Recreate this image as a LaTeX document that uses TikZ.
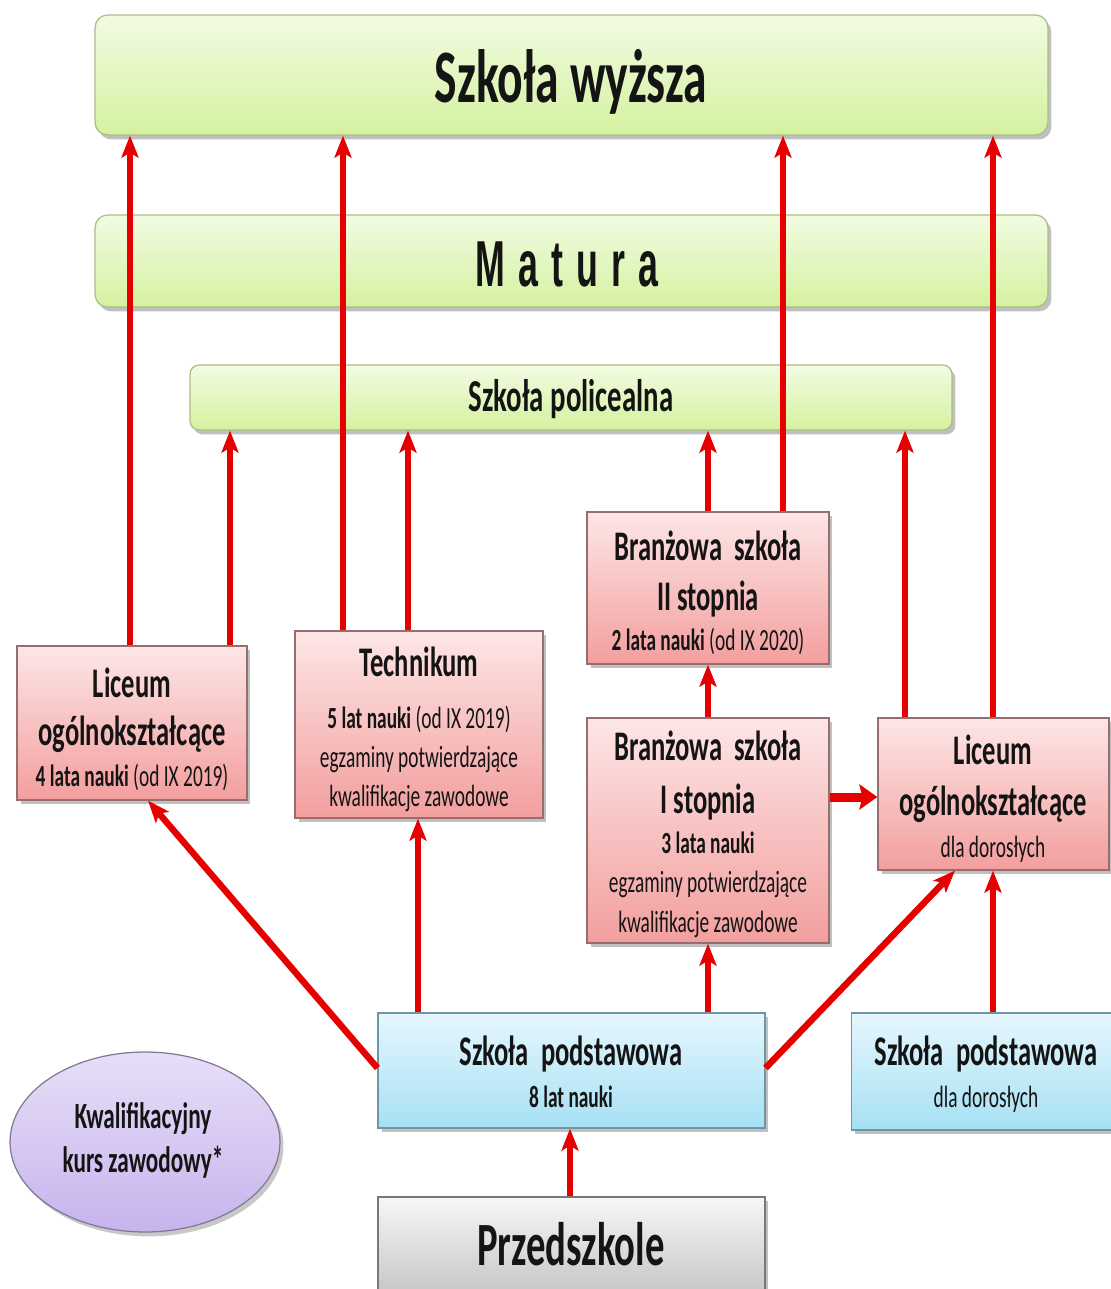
\documentclass[tikz,border=0pt]{standalone}
\usepackage{fontspec}
\setmainfont{Carlito}[FakeStretch=0.63]
\newfontfamily\matfont{Liberation Sans}[FakeStretch=0.55]
\usetikzlibrary{arrows.meta,shadows,shapes.geometric}
\definecolor{arrred}{RGB}{230,0,0}
\definecolor{grnT}{RGB}{242,251,226}
\definecolor{grnD}{RGB}{212,242,160}
\definecolor{grnB}{RGB}{170,190,130}
\definecolor{pnkT}{RGB}{253,230,230}
\definecolor{pnkD}{RGB}{243,158,158}
\definecolor{pnkB}{RGB}{150,110,110}
\definecolor{bluT}{RGB}{230,247,253}
\definecolor{bluD}{RGB}{166,224,244}
\definecolor{bluB}{RGB}{110,150,165}
\definecolor{gryT}{RGB}{246,246,246}
\definecolor{gryD}{RGB}{196,196,196}
\definecolor{gryB}{RGB}{120,120,120}
\definecolor{lavT}{RGB}{232,222,248}
\definecolor{lavD}{RGB}{198,180,236}
\definecolor{lavB}{RGB}{130,120,150}
\newcommand\titlefnt{\fontsize{43}{50}\selectfont\bfseries}
\newcommand\polfnt{\fontsize{26}{30}\selectfont\bfseries}
\newcommand\hdfnt{\fontsize{24}{28}\selectfont\bfseries}
\newcommand\smfnt{\fontsize{17.5}{21}\selectfont}
\newcommand\elfnt{\fontsize{21}{25}\selectfont\bfseries}
\newcommand\przfnt{\fontsize{35}{40}\selectfont\bfseries}
\newcommand\matfnt{\matfont\fontsize{37}{42}\selectfont\bfseries}
\newcommand\lsp{\hspace{0.2em}}
\tikzset{
  basebox/.style={rectangle, inner sep=0pt, line width=0.7pt,
    drop shadow={shadow xshift=2pt, shadow yshift=-2.5pt, opacity=0.35, fill=black!70}},
  greenbox/.style={basebox, draw=grnB, top color=grnT, bottom color=grnD, rounded corners=0.25cm},
  pinkbox/.style={basebox, draw=pnkB, top color=pnkT, bottom color=pnkD},
  bluebox/.style={basebox, draw=bluB, top color=bluT, bottom color=bluD},
  graybox/.style={basebox, draw=gryB, top color=gryT, bottom color=gryD},
  lavell/.style={ellipse, inner sep=0pt, line width=0.7pt, draw=lavB, top color=lavT, bottom color=lavD,
    drop shadow={shadow xshift=2pt, shadow yshift=-2.5pt, opacity=0.3, fill=black!70}},
  arr/.style={draw=arrred, line width=0.11cm, -{Stealth[length=0.44cm,width=0.34cm,inset=0.1cm]}},
  thickarr/.style={draw=arrred, line width=0.18cm, -{Stealth[length=0.36cm,width=0.5cm,inset=0.06cm]}},
  txt/.style={inner sep=0pt, anchor=base, text=black!92},
}
\begin{document}
\begin{tikzpicture}[x=0.02cm,y=-0.02cm]
\useasboundingbox (0,0) rectangle (1111,1289);
\clip (0,0) rectangle (1111,1289);
\fill[white] (0,0) rectangle (1111,1289);

% boxes
\node[greenbox, minimum width=19.06cm, minimum height=2.4cm] (wyz) at (571.5,75) {};
\node[greenbox, minimum width=19.06cm, minimum height=1.84cm] (mat) at (571.5,261) {};
\node[greenbox, minimum width=15.24cm, minimum height=1.3cm, rounded corners=0.18cm] (pol) at (571,397.5) {};
\node[pinkbox, minimum width=4.6cm, minimum height=3.08cm] (lic) at (132,723) {};
\node[pinkbox, minimum width=4.96cm, minimum height=3.74cm] (tech) at (419,724.5) {};
\node[pinkbox, minimum width=4.84cm, minimum height=3.04cm] (brII) at (708,588) {};
\node[pinkbox, minimum width=4.84cm, minimum height=4.5cm] (brI) at (708,830.5) {};
\node[pinkbox, minimum width=4.62cm, minimum height=3.04cm] (licd) at (993.5,794) {};
\node[bluebox, minimum width=7.74cm, minimum height=2.3cm] (pod) at (571.5,1070.5) {};
\node[bluebox, minimum width=5.3cm, minimum height=2.34cm] (podd) at (984,1071.5) {};
\node[graybox, minimum width=7.74cm, minimum height=2.0cm] (prz) at (571.5,1247) {};
\node[lavell, minimum width=5.4cm, minimum height=3.6cm] (kkz) at (145,1142) {};

% texts
\node[txt, font=\titlefnt] (t1) at (571,102) {Szkoła wyższa};
\node[txt, font=\matfnt] (t2) at (567,286) {M\lsp a\lsp t\lsp u\lsp r\lsp a};
\node[txt, font=\polfnt] (t3) at (571,411) {Szkoła policealna};

\node[txt, font=\hdfnt] (l1) at (132,697) {Liceum};
\node[txt, font=\hdfnt] (l2) at (132,745) {ogólnokształcące};
\node[txt, font=\smfnt] (l3) at (132,786) {\textbf{4 lata nauki} (od IX 2019)};

\node[txt, font=\hdfnt] (te1) at (419,676) {Technikum};
\node[txt, font=\smfnt] (te2) at (419,728) {\textbf{5 lat nauki} (od IX 2019)};
\node[txt, font=\smfnt] (te3) at (419,767) {egzaminy potwierdzające};
\node[txt, font=\smfnt] (te4) at (419,806) {kwalifikacje zawodowe};

\node[txt, font=\hdfnt] (b1) at (708,560) {Branżowa\ \ szkoła};
\node[txt, font=\hdfnt] (b2) at (708,610) {II stopnia};
\node[txt, font=\smfnt] (b3) at (708,650) {\textbf{2 lata nauki} (od IX 2020)};

\node[txt, font=\hdfnt] (c1) at (708,760) {Branżowa\ \ szkoła};
\node[txt, font=\hdfnt] (c2) at (708,813) {I stopnia};
\node[txt, font=\smfnt] (c3) at (708,853) {\textbf{3 lata nauki}};
\node[txt, font=\smfnt] (c4) at (708,892) {egzaminy potwierdzające};
\node[txt, font=\smfnt] (c5) at (708,932) {kwalifikacje zawodowe};

\node[txt, font=\hdfnt] (d1) at (993,764) {Liceum};
\node[txt, font=\hdfnt] (d2) at (993,815) {ogólnokształcące};
\node[txt, font=\smfnt] (d3) at (993,857) {dla dorosłych};

\node[txt, font=\hdfnt] (p1) at (571,1065) {Szkoła\ \ podstawowa};
\node[txt, font=\smfnt\bfseries] (p2) at (571,1107) {8 lat nauki};

\node[txt, font=\hdfnt] (q1) at (986,1065) {Szkoła\ \ podstawowa};
\node[txt, font=\smfnt] (q2) at (986,1107) {dla dorosłych};

\node[txt, font=\przfnt] (z1) at (571,1265) {Przedszkole};

\node[txt, font=\elfnt] (k1) at (143,1128) {Kwalifikacyjny};
\node[txt, font=\elfnt] (k2) at (143,1172) {kurs zawodowy*};

% arrows
\draw[arr] (lic.north -| 130,0) -- (wyz.south -| 130,0);
\draw[arr] (lic.north -| 230,0) -- (pol.south -| 230,0);
\draw[arr] (tech.north -| 343,0) -- (wyz.south -| 343,0);
\draw[arr] (tech.north -| 408,0) -- (pol.south -| 408,0);
\draw[arr] (brII.north -| 708,0) -- (pol.south -| 708,0);
\draw[arr] (brII.north -| 783,0) -- (wyz.south -| 783,0);
\draw[arr] (licd.north -| 905,0) -- (pol.south -| 905,0);
\draw[arr] (licd.north -| 993,0) -- (wyz.south -| 993,0);
\draw[arr] (brI.north) -- (brII.south);
\draw[thickarr] (brI.east |- 0,797) -- (licd.west |- 0,797);
\draw[arr, line width=0.13cm] (pod.west |- 0,1068) -- (lic.south -| 148,0);
\draw[arr] (pod.north -| 418,0) -- (tech.south -| 418,0);
\draw[arr] (pod.north -| 708,0) -- (brI.south -| 708,0);
\draw[arr, line width=0.13cm] (pod.east |- 0,1068) -- (licd.south -| 955,0);
\draw[arr] (podd.north -| 993,0) -- (licd.south -| 993,0);
\draw[arr] (prz.north -| 570,0) -- (pod.south -| 570,0);
\end{tikzpicture}
\end{document}
